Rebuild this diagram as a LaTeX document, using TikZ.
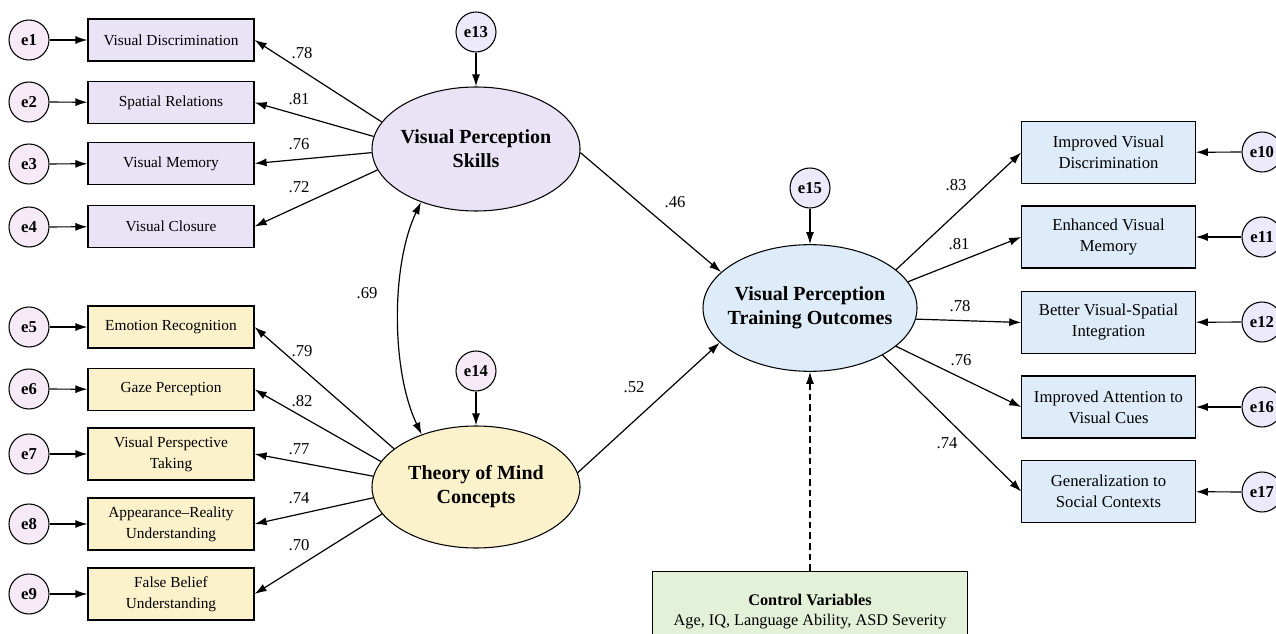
\documentclass[tikz,border=0pt]{standalone}
\usepackage{fontspec}
\setmainfont{Liberation Serif}
\usepackage{xcolor}
\usepackage{tikz}
\usetikzlibrary{positioning,shapes.geometric,arrows.meta}

\definecolor{vpsfill}{RGB}{234,227,246}
\definecolor{tomfill}{RGB}{251,242,204}
\definecolor{outfill}{RGB}{222,235,248}
\definecolor{ctrlfill}{RGB}{228,241,217}
\definecolor{errpink}{RGB}{245,234,246}
\definecolor{errlav}{RGB}{236,233,250}

\begin{document}
\begin{tikzpicture}[x=0.75pt,y=0.75pt,yscale=-1,xscale=1,
  errvar/.style={circle,draw,line width=0.8pt,fill=errpink,minimum size=30pt,inner sep=0pt,font=\fontsize{12.5}{14}\selectfont\bfseries},
  vpsbox/.style={draw,line width=0.9pt,fill=vpsfill,minimum width=124.5pt,minimum height=31.5pt,inner sep=2pt,align=center,font=\fontsize{11.5}{15.5}\selectfont},
  tombox/.style={vpsbox,fill=tomfill},
  outbox/.style={draw,line width=0.9pt,fill=outfill,minimum width=130pt,minimum height=46.5pt,inner sep=2pt,align=center,font=\fontsize{12.5}{15.75}\selectfont},
  latent/.style={ellipse,draw,line width=0.8pt,inner xsep=-8pt,inner ysep=0pt,align=center,font=\fontsize{15}{18}\selectfont\bfseries},
  coef/.style={inner sep=0pt,font=\fontsize{12.5}{14}\selectfont},
  link/.style={line width=0.9pt,-{Latex[length=9pt,width=6pt]}},
]
\useasboundingbox (0,0) rectangle (1276,634);
\clip (0,0) rectangle (1276,634);

% Latent variables
\node[latent,fill=vpsfill,minimum width=156pt,minimum height=93pt] (vps) at (476,149) {Visual Perception\\Skills};
\node[latent,fill=tomfill,minimum width=156pt,minimum height=91.5pt] (tom) at (476,487) {Theory of Mind\\Concepts};
\node[latent,fill=outfill,minimum width=160.5pt,minimum height=95pt] (vpto) at (810,308) {Visual Perception\\Training Outcomes};

% Indicators, visual perception
\node[vpsbox] (vd) at (171,40) {Visual Discrimination};
\node[vpsbox] (sr) at (171,102.5) {Spatial Relations};
\node[vpsbox] (vm) at (171,163.5) {Visual Memory};
\node[vpsbox] (vc) at (171,226.5) {Visual Closure};

% Indicators, theory of mind
\node[tombox] (er) at (171,327) {Emotion Recognition};
\node[tombox] (gp) at (171,389.5) {Gaze Perception};
\node[tombox,minimum height=39pt] (vpt) at (171,454) {Visual Perspective\\Taking};
\node[tombox,minimum height=39pt] (ar) at (171,524) {Appearance--Reality\\Understanding};
\node[tombox,minimum height=39pt] (fb) at (171,594) {False Belief\\Understanding};

% Indicators, outcomes
\node[outbox] (ivd) at (1108.5,152.5) {Improved Visual\\Discrimination};
\node[outbox] (evm) at (1108.5,237) {Enhanced Visual\\Memory};
\node[outbox] (bvs) at (1108.5,322.5) {Better Visual-Spatial\\Integration};
\node[outbox] (iav) at (1108.5,407) {Improved Attention to\\Visual Cues};
\node[outbox] (gsc) at (1108.5,491.5) {Generalization to\\Social Contexts};

% Control variables
\node[draw,line width=0.9pt,fill=ctrlfill,anchor=north,minimum width=236pt,inner ysep=17pt,align=center,font=\fontsize{12.2}{15}\selectfont] (ctrl) at (810,571) {\textbf{Control Variables}\\Age, IQ, Language Ability, ASD Severity};

% Error terms
\node[errvar] (e1) at (29,40) {e1};
\node[errvar] (e2) at (29,102) {e2};
\node[errvar] (e3) at (29,164) {e3};
\node[errvar] (e4) at (29,227) {e4};
\node[errvar] (e5) at (29,327) {e5};
\node[errvar] (e6) at (29,389) {e6};
\node[errvar] (e7) at (29,454) {e7};
\node[errvar] (e8) at (29,524) {e8};
\node[errvar] (e9) at (29,594) {e9};
\node[errvar,fill=errlav] (e10) at (1262,152) {e10};
\node[errvar,fill=errlav] (e11) at (1262,237) {e11};
\node[errvar,fill=errlav] (e12) at (1262,322) {e12};
\node[errvar,fill=errlav] (e16) at (1262,407) {e16};
\node[errvar,fill=errlav] (e17) at (1262,492) {e17};
\node[errvar,fill=errlav] (e13) at (476,32) {e13};
\node[errvar] (e14) at (476,371) {e14};
\node[errvar,fill=errlav] (e15) at (810,188) {e15};

% Error paths
\foreach \e/\b in {e1/vd,e2/sr,e3/vm,e4/vc,e5/er,e6/gp,e7/vpt,e8/ar,e9/fb,e10/ivd,e11/evm,e12/bvs,e16/iav,e17/gsc,e13/vps,e14/tom,e15/vpto}
  \draw[link] (\e) -- (\b);

% Loadings
\draw[link] (vps.164) -- (vd.east);
\draw[link] (vps.173) -- (sr.east);
\draw[link] (vps.182) -- (vm.east);
\draw[link] (vps.192) -- (vc.east);
\draw[link] (tom.155) -- (er.east);
\draw[link] (tom.165) -- (gp.east);
\draw[link] (tom.174) -- (vpt.east);
\draw[link] (tom.186) -- (ar.east);
\draw[link] (tom.196) -- (fb.east);
\draw[link] (vpto.24) -- (ivd.west);
\draw[link] (vpto.15) -- (evm.west);
\draw[link] (vpto.354) -- (bvs.west);
\draw[link] (vpto.336) -- (iav.west);
\draw[link] (vpto.327) -- (gsc.west);

% Structural paths
\draw[link] (vps.358) -- (vpto.158);
\draw[link] (tom.8) -- (vpto.201);
\draw[line width=0.9pt,{Latex[length=9pt,width=6pt]}-{Latex[length=9pt,width=6pt]}] (vps.224) .. controls (391,265) and (391,370) .. (tom.136);
\draw[link,dash pattern=on 5pt off 3pt] (ctrl.north) -- (vpto.south);

% Coefficients
\node[coef] (c78) at (302,53) {.78};
\node[coef] (c81) at (299,99) {.81};
\node[coef] (c76) at (299,144) {.76};
\node[coef] (c72) at (299,187) {.72};
\node[coef] (c79) at (302,351) {.79};
\node[coef] (c82) at (302,401) {.82};
\node[coef] (c77) at (299,449) {.77};
\node[coef] (c74) at (299,498) {.74};
\node[coef] (c70) at (299,545) {.70};
\node[coef] (c69) at (367,293) {.69};
\node[coef] (c46) at (675,202) {.46};
\node[coef] (c52) at (634,387) {.52};
\node[coef] (o83) at (956,185) {.83};
\node[coef] (o81) at (959,244) {.81};
\node[coef] (o78) at (960,306) {.78};
\node[coef] (o76) at (961,360) {.76};
\node[coef] (o74) at (947,443) {.74};

\end{tikzpicture}
\end{document}
